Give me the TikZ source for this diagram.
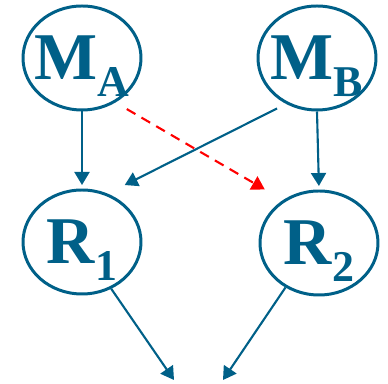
\documentclass[tikz,border=0pt]{standalone}
\usepackage{fontspec}
\setmainfont{Liberation Serif}[BoldFont={Liberation Serif Bold}]
\usetikzlibrary{shapes.geometric,arrows.meta}

\definecolor{nodeblue}{RGB}{0,96,136}

\newcommand{\bigvar}[2]{\makebox[0pt]{\fontsize{38}{38}\selectfont\bfseries #1\raisebox{-0.34cm}{\fontsize{25}{25}\selectfont #2}}}

\tikzset{
    varnode/.style={ellipse, draw=nodeblue, line width=1.7pt, text=nodeblue,
        minimum width=2.36cm, minimum height=2.08cm, inner sep=0pt, text depth=0pt},
    link/.style={draw=nodeblue, line width=1.2pt,
        -{Triangle[length=0.26cm,width=0.3cm]}},
    weaklink/.style={draw=red, line width=1.2pt, dash pattern=on 0.2cm off 0.14cm,
        -{Triangle[length=0.26cm,width=0.3cm,fill=red]}}
}

\begin{document}
\begin{tikzpicture}

\useasboundingbox (0,0) rectangle (7.76,7.68);

% Causes
\node[varnode] (MA) at (1.64,6.52) {\bigvar{M}{A}};
\node[varnode] (MB) at (6.34,6.52) {\bigvar{M}{B}};

% Responses
\node[varnode] (R1) at (1.64,2.84) {\bigvar{R}{1}};
\node[varnode] (R2) at (6.38,2.82) {\bigvar{R}{2}};

\coordinate (out1) at (3.48,0.08);
\coordinate (out2) at (4.46,0.08);

\draw[link, shorten >=2pt] (MA.south) -- (R1.north);
\draw[link, shorten >=2pt] (MB.south) -- (R2.north);
\draw[link, shorten <=0.2cm, shorten >=0.38cm] (MB.236) -- (R1.62);
\draw[weaklink, shorten <=0.26cm, shorten >=0.42cm] (MA.-53) -- (R2.130);

\draw[link] (R1.-58) -- (out1);
\draw[link] (R2.233) -- (out2);

\end{tikzpicture}
\end{document}
